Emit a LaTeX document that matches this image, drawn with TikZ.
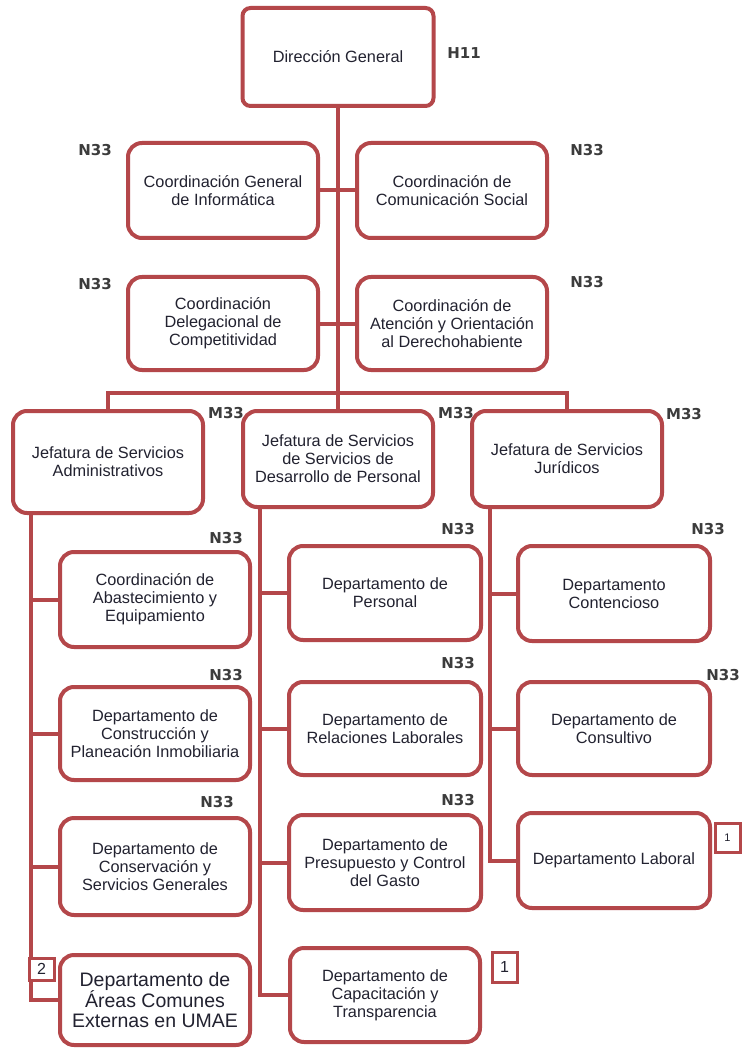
\documentclass[tikz,border=0pt]{standalone}
\usepackage{fontspec}
\setmainfont{Liberation Sans}
\newfontfamily\labfont{DejaVu Sans}
\definecolor{bord}{HTML}{B4474A}
\definecolor{txt}{HTML}{222230}
\definecolor{labc}{HTML}{3C3C3C}
\tikzset{
  box/.style={draw=bord, line width=4pt, rounded corners=14pt, fill=white,
    minimum width=190pt, minimum height=95pt, align=center, text=txt,
    font=\fontsize{16.3}{18}\selectfont, inner sep=2pt},
  conn/.style={draw=bord, line width=4pt},
  lab/.style={text=labc, font=\labfont\bfseries\fontsize{15}{15}\selectfont, inner sep=0pt},
  num/.style={draw=bord, line width=3pt, fill=white, minimum width=25pt,
    minimum height=27pt, inner sep=0pt, text=txt}
}
\begin{document}
\begin{tikzpicture}[x=1pt,y=-1pt]
\useasboundingbox[fill=white] (0,0) rectangle (744,1048);
% top
\node[box, rounded corners=8pt, minimum width=191pt, minimum height=98pt] (dg) at (338,57) {Dirección General};
\node[lab] (h11) at (464,53) {H11};
% coordinations
\node[box] (cgi) at (223,190.5) {Coordinación General\\de Informática};
\node[box] (ccs) at (452,190.5) {Coordinación de\\Comunicación Social};
\node[box, minimum height=93pt] (cdc) at (223,323.5) {Coordinación\\Delegacional de\\Competitividad};
\node[box, minimum height=93pt] (caod) at (452,323.5) {Coordinación de\\Atención y Orientación\\al Derechohabiente};
\node[lab] (l1) at (95,150) {N33};
\node[lab] (l2) at (587,150) {N33};
\node[lab] (l3) at (95,284) {N33};
\node[lab] (l4) at (587,282) {N33};
% jefaturas
\node[box, minimum height=102pt] (jsa) at (108,462) {Jefatura de Servicios\\Administrativos};
\node[box, minimum height=96pt] (jsdp) at (338,459) {Jefatura de Servicios\\de Servicios de\\Desarrollo de Personal};
\node[box, minimum height=96pt] (jsj) at (567,459) {Jefatura de Servicios\\Jurídicos};
\node[lab] (m1) at (226,413) {M33};
\node[lab] (m2) at (456,413) {M33};
\node[lab] (m3) at (684,414) {M33};
% left column
\node[box] (cae) at (155,599.5) {Coordinación de\\Abastecimiento y\\Equipamiento};
\node[box, minimum height=93pt] (dcpi) at (155,733.5) {Departamento de\\Construcción y\\Planeación Inmobiliaria};
\node[box, minimum height=97pt] (dcsg) at (155,866.5) {Departamento de\\Conservación y\\Servicios Generales};
\node[box, minimum height=90pt, font=\fontsize{19.5}{20}\selectfont] (daceu) at (155,1000) {Departamento de\\Áreas Comunes\\Externas en UMAE};
\node[lab] (n1) at (226,538) {N33};
\node[lab] (n2) at (226,675) {N33};
\node[lab] (n3) at (217,802) {N33};
\node[num, minimum height=22pt, font=\fontsize{16}{16}\selectfont] (two) at (41.5,969) {2};
% middle column
\node[box, minimum width=192pt, minimum height=94pt] (dp) at (385,593) {Departamento de\\Personal};
\node[box, minimum width=192pt, minimum height=93pt] (drl) at (385,728.5) {Departamento de\\Relaciones Laborales};
\node[box, minimum width=192pt] (dpcg) at (385,862.5) {Departamento de\\Presupuesto y Control\\del Gasto};
\node[box, minimum height=94pt] (dct) at (385,995) {Departamento de\\Capacitación y\\Transparencia};
\node[lab] (n4) at (458,529) {N33};
\node[lab] (n5) at (458,663) {N33};
\node[lab] (n6) at (458,800) {N33};
\node[num, minimum height=30pt, font=\fontsize{16}{16}\selectfont] (one2) at (504.5,967) {1};
% right column
\node[box, minimum width=192pt] (dc) at (614,593.5) {Departamento\\Contencioso};
\node[box, minimum width=192pt, minimum height=93pt] (dcons) at (614,728.5) {Departamento de\\Consultivo};
\node[box, minimum width=192pt] (dl) at (614,860.5) {Departamento Laboral};
\node[lab] (n7) at (708,529) {N33};
\node[lab] (n8) at (723,675) {N33};
\node[num, minimum height=29pt, font=\fontsize{11}{11}\selectfont] (one1) at (727.5,837.5) {1};
% connectors
\coordinate (bar) at (338,393);
\coordinate (lt) at ([xshift=20pt]jsa.south west);
\coordinate (mt) at ([xshift=19pt]jsdp.south west);
\coordinate (rt) at ([xshift=20pt]jsj.south west);
\draw[conn] (dg.south) -- (bar);
\draw[conn] (cgi.east) -- (ccs.west);
\draw[conn] (cdc.east) -- (caod.west);
\draw[conn] (jsa.north) |- (bar) -| (jsj.north);
\draw[conn] (jsdp.north) -- (jsdp.north |- bar);
% left
\draw[conn] (lt) -- (lt |- two.north);
\draw[conn] (lt |- two.south) |- (daceu.west);
\draw[conn] (cae.west) -- (cae.west -| lt);
\draw[conn] (dcpi.west) -- (dcpi.west -| lt);
\draw[conn] (dcsg.west) -- (dcsg.west -| lt);
% middle
\draw[conn] (mt) |- (dct.west);
\draw[conn] (dp.west) -- (dp.west -| mt);
\draw[conn] (drl.west) -- (drl.west -| mt);
\draw[conn] (dpcg.west) -- (dpcg.west -| mt);
% right
\draw[conn] (rt) |- (dl.west);
\draw[conn] (dc.west) -- (dc.west -| rt);
\draw[conn] (dcons.west) -- (dcons.west -| rt);
\end{tikzpicture}
\end{document}
